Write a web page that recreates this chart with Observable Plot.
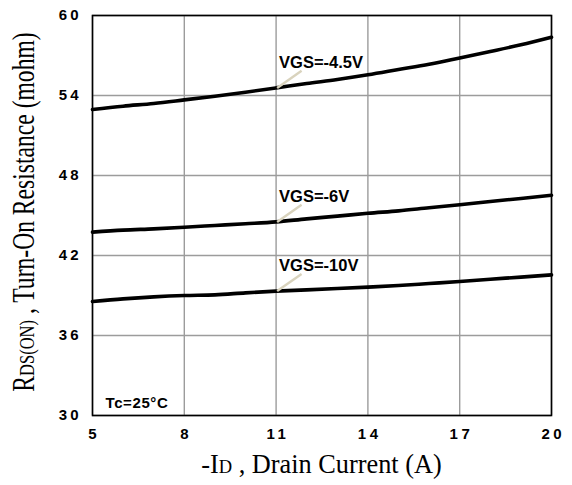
<!DOCTYPE html>
<html>
<head>
<meta charset="utf-8">
<script src="https://cdn.jsdelivr.net/npm/d3@7"></script>
<script src="https://cdn.jsdelivr.net/npm/@observablehq/plot@0.6"></script>
<style>
  html, body { margin: 0; padding: 0; background: white; }
  #chart { width: 572px; height: 485px; }
</style>
</head>
<body>
<div id="chart"></div>
<script>
// Data
const current = [5, 6, 7, 8, 9, 10, 11, 12, 13, 14, 15, 16, 17, 18, 19, 20];
const vgs45 = [52.95, 53.2, 53.4, 53.67, 53.95, 54.25, 54.57, 54.9, 55.2, 55.55, 55.95, 56.35, 56.82, 57.3, 57.8, 58.37];
const vgs6  = [43.75, 43.9, 44.0, 44.12, 44.25, 44.38, 44.52, 44.75, 44.95, 45.17, 45.35, 45.58, 45.8, 46.05, 46.28, 46.52];
const vgs10 = [38.55, 38.75, 38.9, 39.0, 39.05, 39.2, 39.33, 39.42, 39.52, 39.63, 39.75, 39.9, 40.05, 40.22, 40.38, 40.55];
const seriesNames = ["VGS=-4.5V", "VGS=-6V", "VGS=-10V"];
const xTicks = [5, 8, 11, 14, 17, 20];
const yTicks = [30, 36, 42, 48, 54, 60];
const labelAt = 11;
const tempLabel = "Tc=25°C";

const seriesValues = [vgs45, vgs6, vgs10];
const rows = [];
seriesValues.forEach((vals, i) => {
  vals.forEach((v, j) => rows.push({series: seriesNames[i], x: current[j], y: v}));
});
const labels = seriesValues.map((vals, i) => {
  const v = vals[current.indexOf(labelAt)];
  return {name: seriesNames[i], x: labelAt, y: v, x2: labelAt + 0.8, y2: v + 1.28};
});

const sans = "'Liberation Sans', Arial, Helvetica, sans-serif";
const serif = "'Liberation Serif', 'Times New Roman', Times, serif";

const plot = Plot.plot({
  width: 572,
  height: 485,
  marginLeft: 92,
  marginRight: 21,
  marginTop: 15,
  marginBottom: 70,
  style: {background: "white", fontFamily: sans, color: "black"},
  x: {domain: [5, 20], ticks: xTicks, label: null},
  y: {domain: [30, 60], ticks: yTicks, label: null},
  marks: [
    Plot.gridX(xTicks, {stroke: "#9c9c9c", strokeOpacity: 1, strokeWidth: 1.4}),
    Plot.gridY(yTicks, {stroke: "#9c9c9c", strokeOpacity: 1, strokeWidth: 1.4}),
    Plot.line(rows, {x: "x", y: "y", z: "series", curve: "monotone-x", stroke: "black", strokeWidth: 3.6}),
    Plot.link(labels, {x1: "x", y1: "y", x2: "x2", y2: "y2", stroke: "#d9d3bd", strokeWidth: 2.4, dx: 1}),
    Plot.text(labels, {x: "x", y: "y", text: "name", textAnchor: "start", lineAnchor: "bottom", dx: 3, dy: -20, fontSize: 16.5, fontWeight: "bold", fill: "black"}),
    Plot.text([tempLabel], {x: () => 5, y: () => 30, text: d => d, textAnchor: "start", lineAnchor: "bottom", dx: 13, dy: -8, fontSize: 15, fontWeight: "bold", fill: "black"}),
    Plot.frame({stroke: "black", strokeWidth: 1.6}),
    Plot.axisX({ticks: xTicks, tickSize: 0, tickPadding: 13, fontSize: 15, fontWeight: "bold", tickFormat: d => String(d), label: null}),
    Plot.axisY({ticks: yTicks, tickSize: 0, tickPadding: 11, fontSize: 15, fontWeight: "bold", tickFormat: d => String(d), label: null})
  ]
});

document.getElementById("chart").appendChild(plot);

const svg = d3.select(plot);
svg.selectAll('[aria-label="x-axis tick label"] text').style("letter-spacing", "3.5px").attr("dx", 1.75);
svg.selectAll('[aria-label="y-axis tick label"] text').style("letter-spacing", "3px");
svg.selectAll('[aria-label="text"] text').filter(function() { return this.textContent === tempLabel; }).style("letter-spacing", "0.6px");

// Axis titles with smaller subscript letters
const xt = svg.append("text")
  .attr("x", 321.5).attr("y", 473)
  .attr("text-anchor", "middle")
  .style("font-family", serif).style("font-size", "26.3px").attr("fill", "black");
xt.append("tspan").text("-I");
xt.append("tspan").style("font-size", "18.5px").text("D");
xt.append("tspan").text(" , Drain Current (A)");

const yt = svg.append("text")
  .attr("transform", "translate(34,212) rotate(-90) scale(1,1.32)")
  .attr("text-anchor", "middle")
  .style("font-family", serif).style("font-size", "23.6px").attr("fill", "black");
yt.append("tspan").text("R");
yt.append("tspan").style("font-size", "16.5px").text("DS(ON)");
yt.append("tspan").text(" , Turn-On Resistance (mohm)");
</script>
</body>
</html>
